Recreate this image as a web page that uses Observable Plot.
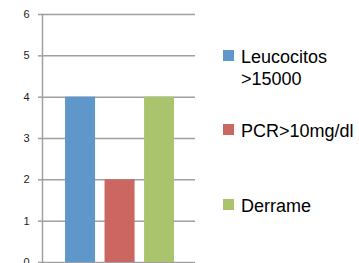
<!DOCTYPE html>
<html><head><meta charset="utf-8">
<script src="https://cdn.jsdelivr.net/npm/d3@7"></script>
<script src="https://cdn.jsdelivr.net/npm/@observablehq/plot@0.6"></script>
<style>
html,body{margin:0;padding:0;background:#fff;overflow:hidden;width:359px;height:263px}
#wrap{position:relative;width:359px;height:263px}
#chart{position:absolute;left:0;top:0}
.leg{position:absolute;left:223px;font-family:"Liberation Sans",Arial,sans-serif;font-size:18px;color:#000;line-height:22px}
.leg .sw{position:absolute;left:0;top:4px;width:11px;height:11px}
.leg .tx{position:absolute;left:18px;top:0;white-space:nowrap}
</style></head>
<body><div id="wrap"><div id="chart"></div></div>
<script>
const categories = ["Leucocitos >15000", "PCR>10mg/dl", "Derrame"];
const values = [4, 2, 4];
const colors = ["#6097cb", "#cc6661", "#a9c46c"];
const yTicks = [0, 1, 2, 3, 4, 5, 6];
const legendLines = [["Leucocitos", ">15000"], ["PCR>10mg/dl"], ["Derrame"]];
const legendTops = [46, 120, 195];

const data = categories.map((c, i) => ({cat: c, v: values[i]}));
const grid = "#a0a0a0";
const plot = Plot.plot({
  width: 359, height: 275,
  marginLeft: 42, marginRight: 164, marginTop: 14, marginBottom: 13,
  x: {domain: categories, range: [60.3, 178.8], paddingInner: 0.24, paddingOuter: 0.12, round: false, axis: null},
  y: {domain: [0, 6], ticks: yTicks},
  style: {fontFamily: "Liberation Sans, Arial, sans-serif", fontSize: "11px", color: "#222", overflow: "visible"},
  marks: [
    Plot.gridY(yTicks, {stroke: grid, strokeOpacity: 1, strokeWidth: 1.5}),
    Plot.axisY(yTicks, {tickSize: 4, tickPadding: 9, stroke: grid, strokeWidth: 1.5, label: null, fill: "#222", tickFormat: d3.format("d")}),
    Plot.barY(data, {x: "cat", y: "v", fill: (d, i) => colors[i]}),
    Plot.frame({anchor: "left", stroke: grid, strokeWidth: 1.5})
  ]
});
document.getElementById("chart").appendChild(plot);
const wrap = document.getElementById("wrap");
legendLines.forEach((lines, i) => {
  const d = document.createElement("div");
  d.className = "leg";
  d.style.top = legendTops[i] + "px";
  const sw = document.createElement("div");
  sw.className = "sw"; sw.style.background = colors[i];
  const tx = document.createElement("div");
  tx.className = "tx"; tx.innerHTML = lines.join("<br>");
  d.appendChild(sw); d.appendChild(tx);
  wrap.appendChild(d);
});
</script></body></html>
